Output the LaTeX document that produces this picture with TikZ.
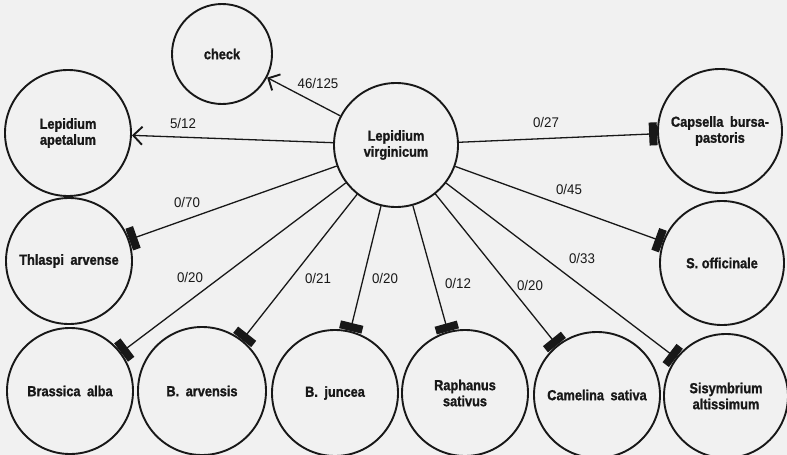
\documentclass[tikz,border=0pt]{standalone}
\usepackage{fontspec}
\setmainfont{Liberation Sans}[FakeStretch=0.88, BoldFeatures={FakeBold=1.2}]
\newfontfamily\ratiofont{Liberation Sans}[FakeStretch=0.95]
\usetikzlibrary{arrows.meta}
\definecolor{paper}{RGB}{241,241,241}
\definecolor{ink}{RGB}{24,24,24}
\newcommand{\gap}{\hspace{0.45em}}
\begin{document}
\begin{tikzpicture}[x=1pt,y=-1pt,
  taxon/.style={circle, draw=ink, line width=1.9pt, inner sep=0pt,
    text=ink, font=\bfseries\fontsize{14.5}{16}\selectfont, align=center},
  link/.style={draw=ink, line width=1.3pt},
  blocked/.style={link, -{Rectangle[length=8pt,width=23pt]}},
  crossed/.style={link, -{Straight Barb[length=9pt,width=18pt,line width=1.9pt]}},
  ratio/.style={font=\ratiofont\fontsize{14}{15}\selectfont, text=ink, inner sep=0pt}]

% page and background
\fill[paper] (0,0) rectangle (787,455);
\useasboundingbox (0,0) rectangle (787,455);

% central species
\node[taxon, minimum size=124pt] (lv) at (396,145) {Lepidium\\virginicum};

% surrounding species
\node[taxon, minimum size=100pt] (check) at (222,54) {check};
\node[taxon, minimum size=126pt] (apet) at (68,133) {Lepidium\\apetalum};
\node[taxon, minimum size=124pt] (caps) at (720,131) {Capsella\gap bursa-\\pastoris};
\node[taxon, minimum size=126pt] (thla) at (69,261) {Thlaspi\gap arvense};
\node[taxon, minimum size=124pt] (soff) at (722,263) {S. officinale};
\node[taxon, minimum size=126pt] (alba) at (70,391) {Brassica\gap alba};
\node[taxon, minimum size=128pt] (barv) at (202,391) {B.\gap arvensis};
\node[taxon, minimum size=126pt] (junc) at (335,393) {B.\gap juncea};
\node[taxon, minimum size=126pt] (raph) at (465,393) {Raphanus\\sativus};
\node[taxon, minimum size=126pt] (came) at (597,395) {Camelina\gap sativa};
\node[taxon, minimum size=124pt] (sisy) at (726,396) {Sisymbrium\\altissimum};

% crosses that took
\draw[crossed] (lv) -- (check);
\draw[crossed] (lv) -- (apet);

% crosses that failed
\draw[blocked] (lv) -- (caps);
\draw[blocked] (lv) -- (thla);
\draw[blocked] (lv) -- (soff);
\draw[blocked] (lv) -- (alba);
\draw[blocked] (lv) -- (barv);
\draw[blocked] (lv) -- (junc);
\draw[blocked] (lv) -- (raph);
\draw[blocked] (lv) -- (came);
\draw[blocked] (lv) -- (sisy);

% success ratios
\node[ratio] (r-check) at (318,83) {46/125};
\node[ratio] (r-apet) at (183,123) {5/12};
\node[ratio] (r-caps) at (546,122) {0/27};
\node[ratio] (r-soff) at (569,189) {0/45};
\node[ratio] (r-thla) at (187,202) {0/70};
\node[ratio] (r-alba) at (190,277) {0/20};
\node[ratio] (r-barv) at (318,278) {0/21};
\node[ratio] (r-junc) at (385,278) {0/20};
\node[ratio] (r-raph) at (458,283) {0/12};
\node[ratio] (r-came) at (530,285) {0/20};
\node[ratio] (r-sisy) at (582,258) {0/33};
\end{tikzpicture}
\end{document}
